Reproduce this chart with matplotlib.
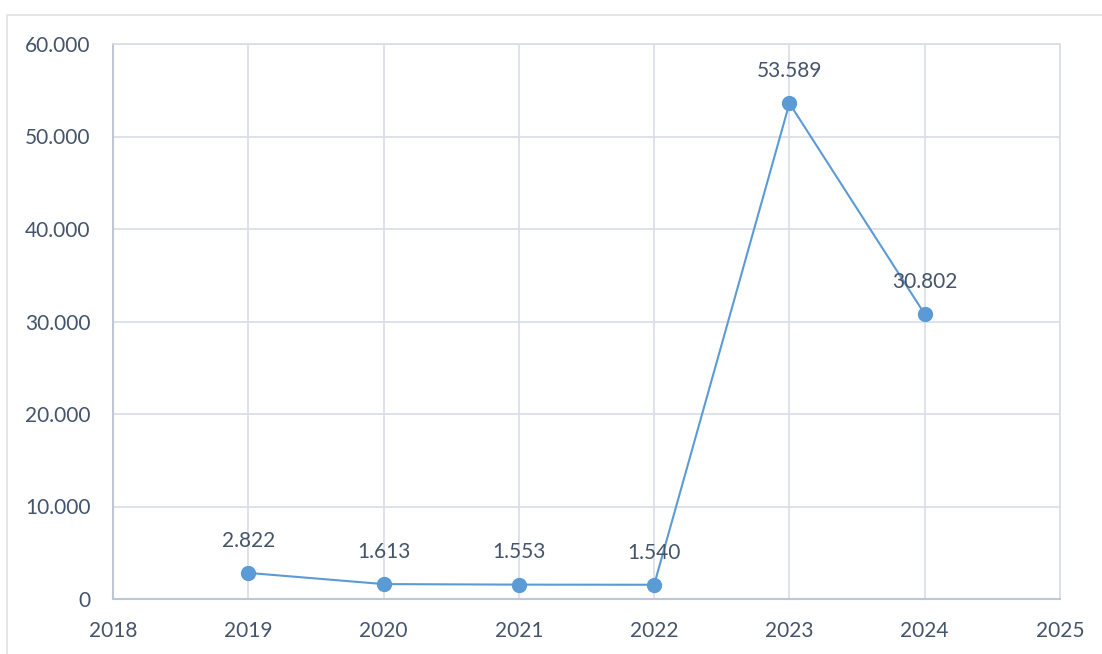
import matplotlib.pyplot as plt
from matplotlib.patches import Rectangle
from matplotlib.ticker import FuncFormatter

# 数据
years = [2019, 2020, 2021, 2022, 2023, 2024]
values = [2.822, 1.613, 1.553, 1.540, 53.589, 30.802]
labels = ['2.822', '1.613', '1.553', '1.540', '53.589', '30.802']

W, H = 1102, 654
TEXT = '#44546A'
LINE = '#5B9BD5'
GRID = '#D9DDE6'

plt.rcParams['font.family'] = ['Lato', 'DejaVu Sans']

fig = plt.figure(figsize=(W / 100, H / 100), dpi=100)

# 外框
fig.patches.append(Rectangle((7 / W, -0.1), 1.2, 1 - 15 / H + 0.1,
                             transform=fig.transFigure, fill=False,
                             edgecolor='#E2E2E2', linewidth=1.2))

ax = fig.add_axes([113 / W, 1 - 599 / H, (1060 - 113) / W, (599 - 44) / H])
ax.plot(years, values, color=LINE, linewidth=1.5, marker='o',
        markersize=10, markerfacecolor=LINE, markeredgecolor=LINE, zorder=3)

for x, y, t in zip(years, values, labels):
    ax.annotate(t, (x, y), xytext=(0, 16), textcoords='offset points',
                ha='center', va='bottom', fontsize=15, color=TEXT)

ax.set_xlim(2018, 2025)
ax.set_ylim(0, 60)
ax.set_xticks(range(2018, 2026))
ax.set_yticks(range(0, 61, 10))
ax.yaxis.set_major_formatter(FuncFormatter(lambda v, p: '0' if v == 0 else f'{int(v)}.000'))

ax.grid(True, color=GRID, linewidth=1.2)
ax.set_axisbelow(True)
for s in ['top', 'right']:
    ax.spines[s].set_color(GRID)
    ax.spines[s].set_linewidth(1.2)
for s in ['left', 'bottom']:
    ax.spines[s].set_color('#BFC6D4')
    ax.spines[s].set_linewidth(1.5)

ax.tick_params(length=0, labelsize=15, labelcolor=TEXT)
ax.tick_params(axis='y', pad=16)
ax.tick_params(axis='x', pad=16)

fig.savefig('out.png', dpi=100)
